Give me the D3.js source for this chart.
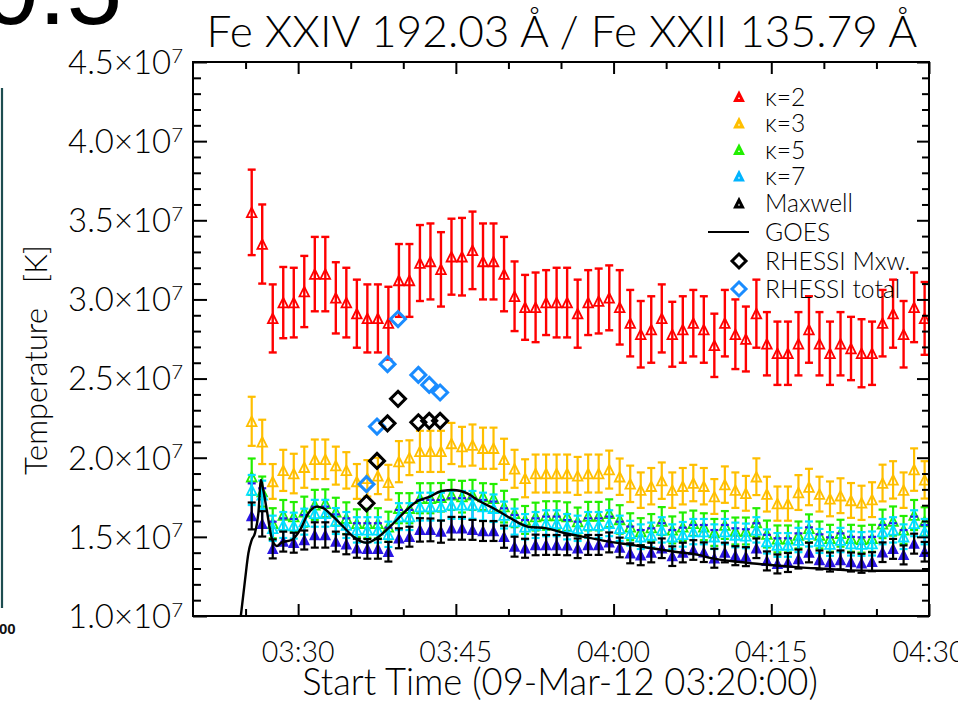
<!DOCTYPE html>
<html>
<head>
<meta charset="utf-8">
<script src="https://cdn.jsdelivr.net/npm/d3@7"></script>
<style>
  html, body { margin: 0; padding: 0; background: #fff; }
  svg { display: block; }
  .lbl { font-family: "Lato", "Liberation Sans", sans-serif; font-weight: 300; fill: #000; white-space: pre; }
</style>
</head>
<body>
<svg id="chart" width="958" height="703"></svg>
<script>
// ---- observation times (UT, 09-Mar-2012) ----
const obsTimes = [
  "03:25:35","03:26:35","03:27:35","03:28:35","03:29:35","03:30:35","03:31:35","03:32:35","03:33:35","03:34:35",
  "03:35:35","03:36:35","03:37:35","03:38:35","03:39:35","03:40:35","03:41:35","03:42:35","03:43:35","03:44:35",
  "03:45:35","03:46:35","03:47:35","03:48:35","03:49:35","03:50:35","03:51:35","03:52:35","03:53:35","03:54:35",
  "03:55:35","03:56:35","03:57:35","03:58:35","03:59:35","04:00:35","04:01:35","04:02:35","04:03:35","04:04:35",
  "04:05:35","04:06:35","04:07:35","04:08:35","04:09:35","04:10:35","04:11:35","04:12:35","04:13:35","04:14:35",
  "04:15:35","04:16:35","04:17:35","04:18:35","04:19:35","04:20:35","04:21:35","04:22:35","04:23:35","04:24:35",
  "04:25:35","04:26:35","04:27:35","04:28:35","04:29:35"];

// ---- temperatures in MK with 1-sigma errors ----
const kappa2 = [35.5,33.5,28.8,29.8,29.8,30.5,31.6,31.6,30.1,29.8,
  29.1,28.8,28.8,28.5,31.2,31.2,32.3,32.4,31.9,32.7,
  32.7,33.1,32.4,32.4,31.6,30.2,29.5,29.5,29.8,29.8,
  29.8,29.1,29.8,29.9,30.1,29.5,28.5,27.8,28.1,28.8,
  27.8,28.1,28.5,28.1,27.1,28.5,27.8,27.5,29.1,27.2,
  26.6,26.6,27.2,28.1,27.2,26.6,27.2,26.9,26.6,26.6,
  28.5,29.1,27.8,29.5,28.8];
const kappa2Err = [2.7,2.5,2.15,2.25,2.2,2.25,2.35,2.35,2.25,2.2,
  2.15,2.15,2.15,2.3,2.3,2.3,2.4,2.4,2.35,2.4,
  2.45,2.45,2.4,2.4,2.35,2.2,2.05,2.2,2.05,2.2,
  2.2,2.15,2.05,2.05,2.05,2.35,2.1,2.1,2.1,2.15,
  2.05,2.1,2.1,2.1,2.0,2.1,2.2,2.05,2.15,2.0,
  2.0,2.0,2.0,2.1,2.0,2.0,2.0,2.0,2.15,2.0,
  2.1,2.15,2.1,2.2,2.3];

const kappa3 = [22.3,21.0,18.5,19.2,19.0,19.4,19.9,19.9,19.5,19.2,
  18.5,18.7,18.85,18.45,19.75,20.0,20.4,20.4,20.4,20.9,
  20.7,20.8,20.6,20.6,19.9,19.3,18.7,19.0,19.0,19.0,
  19.0,18.85,19.0,19.0,19.25,18.8,18.35,17.95,18.2,18.55,
  17.95,18.2,18.4,18.2,17.55,18.3,17.95,17.75,18.8,17.7,
  17.1,17.1,17.8,18.15,17.7,17.4,17.6,17.3,17.15,17.35,
  18.4,18.6,17.95,19.25,18.6];
const kappa3Err = [1.55,1.4,1.1,1.3,1.25,1.3,1.25,1.25,1.2,1.15,
  1.1,1.15,1.15,1.1,1.3,1.1,1.3,1.3,1.3,1.3,
  1.25,1.3,1.3,1.3,1.3,1.2,1.2,1.2,1.2,1.2,
  1.2,1.2,1.2,1.2,1.2,1.15,1.15,1.12,1.15,1.15,
  1.12,1.15,1.15,1.15,1.1,1.15,1.12,1.1,1.16,1.1,
  1.08,1.08,1.1,1.15,1.1,1.1,1.1,1.1,1.08,1.1,
  1.16,1.18,1.12,1.34,1.18];

const kappa5 = [18.8,17.86,15.86,16.38,16.28,16.59,17.02,17.12,16.59,16.18,
  15.86,15.86,15.86,15.64,16.81,16.81,17.44,17.44,17.5,17.65,
  17.54,17.65,17.54,17.44,16.91,16.49,16.07,16.28,16.35,16.35,
  16.28,15.97,16.31,16.31,16.49,16.1,15.64,15.33,15.59,16.0,
  15.44,15.64,15.86,15.64,15.28,15.75,15.37,15.37,15.91,15.18,
  14.87,14.87,15.12,15.54,15.12,14.91,15.23,14.91,14.85,14.91,
  15.82,16.0,15.44,16.38,15.97];
const kappa5Err = [1.15,0.95,0.95,0.95,0.92,0.95,0.95,0.88,0.88,1.0,
  0.88,0.92,0.95,0.95,0.95,0.95,0.95,0.95,0.9,0.95,
  1.0,0.95,0.85,0.9,1.0,0.88,0.88,0.88,0.9,0.9,
  0.9,0.88,0.9,0.9,0.88,0.9,0.85,0.85,0.85,0.88,
  0.85,0.9,0.8,0.85,0.85,0.88,0.85,0.85,0.9,0.85,
  0.85,0.85,0.85,0.88,0.85,0.85,0.85,0.85,0.85,0.85,
  0.9,0.92,0.88,0.95,0.9];

const kappa7 = [17.96,17.65,15.54,15.75,15.71,15.96,16.49,16.49,16.0,15.75,
  15.44,15.44,15.44,15.16,16.28,16.28,16.91,16.91,16.91,17.02,
  17.02,17.02,16.91,16.81,16.38,15.96,15.64,15.75,15.86,15.86,
  15.64,15.54,15.75,15.75,15.86,15.54,15.23,15.01,15.12,15.44,
  15.01,15.16,15.33,15.33,15.01,15.33,15.12,15.06,15.44,14.71,
  14.49,14.49,14.8,15.18,14.74,14.55,14.8,14.58,14.55,14.58,
  15.33,15.44,15.01,15.86,15.33];
const kappa7Err = [0.95,0.9,0.8,0.82,0.82,0.82,0.85,0.85,0.82,0.82,
  0.8,0.8,0.8,0.8,0.85,0.85,0.88,0.88,0.88,0.88,
  0.88,0.88,0.88,0.87,0.85,0.82,0.8,0.82,0.82,0.82,
  0.8,0.8,0.82,0.82,0.82,0.8,0.78,0.78,0.78,0.8,
  0.78,0.78,0.8,0.8,0.78,0.8,0.78,0.78,0.8,0.76,
  0.75,0.75,0.77,0.79,0.76,0.75,0.77,0.76,0.75,0.76,
  0.8,0.8,0.78,0.82,0.8];

const maxwell = [16.32,15.82,14.24,14.70,14.63,14.8,15.12,15.12,14.70,14.53,
  14.28,14.24,14.24,14.06,14.91,15.01,15.44,15.44,15.33,15.54,
  15.54,15.44,15.37,15.37,15.01,14.38,14.28,14.49,14.49,14.49,
  14.47,14.28,14.49,14.49,14.65,14.33,13.96,13.84,14.01,14.28,
  13.78,14.01,14.17,14.03,13.65,14.01,13.81,13.75,14.28,13.48,
  13.29,13.38,13.6,14.01,13.54,13.41,13.54,13.41,13.33,13.43,
  14.03,14.24,13.86,14.57,14.06];
const maxwellErr = [0.85,0.8,0.6,0.63,0.63,0.6,0.8,0.8,0.63,0.63,
  0.6,0.62,0.62,0.62,0.63,0.63,0.74,0.72,0.7,0.72,
  0.72,0.63,0.63,0.63,0.7,0.63,0.6,0.65,0.63,0.63,
  0.63,0.62,0.63,0.63,0.63,0.62,0.63,0.63,0.62,0.62,
  0.62,0.62,0.62,0.62,0.6,0.62,0.6,0.6,0.62,0.6,
  0.6,0.6,0.6,0.62,0.6,0.6,0.6,0.6,0.6,0.6,
  0.62,0.63,0.6,0.63,0.62];
// upper limit of the Maxwellian fit, drawn in blue
const maxwellUpper = [18.38,18.07,15.96,16.17,16.13,16.38,16.91,16.91,16.42,16.17,
  15.86,15.86,15.86,15.58,16.7,16.7,17.33,17.33,17.33,17.44,
  17.44,17.44,17.33,17.23,16.8,16.38,16.06,16.17,16.28,16.28,
  16.06,15.96,16.17,16.17,16.28,15.96,15.65,15.43,15.54,15.86,
  15.43,15.58,15.75,15.75,15.43,15.75,15.54,15.48,15.86,15.13,
  14.91,14.91,15.22,15.6,15.16,14.97,15.22,15.0,14.97,15.0,
  15.75,15.86,15.43,16.28,15.75];

// ---- GOES temperature (MK) ----
const goesTimes = ["03:24:17","03:24:57","03:25:16","03:25:35","03:25:54","03:26:13","03:26:28","03:26:41",
  "03:27:01","03:27:29","03:27:58","03:28:26","03:29:23","03:30:11","03:30:58","03:31:46","03:32:23",
  "03:33:20","03:34:18","03:35:15","03:36:31","03:37:28","03:38:44","03:40:00","03:41:17","03:42:32",
  "03:43:39","03:44:46","03:46:02","03:47:18","03:48:34","03:50:09","03:51:53","03:53:38","03:55:23",
  "03:57:36","03:59:30","04:01:44","04:03:38","04:05:50","04:08:04","04:09:10","04:12:02","04:14:53",
  "04:17:44","04:20:25","04:22:29","04:25:09","04:30:00"];
const goesTemp = [8.5,12.28,13.96,14.8,15.25,16.49,18.6,17.96,
  16.7,14.93,14.42,14.65,14.8,15.44,16.49,16.91,16.81,
  16.28,15.64,15.01,14.63,14.91,15.64,16.49,17.23,17.54,
  17.9,17.96,17.76,17.23,16.81,16.19,15.64,15.54,15.23,
  14.95,14.7,14.49,14.28,14.06,13.86,13.67,13.41,13.22,
  13.07,12.97,12.88,12.86,12.86];

// ---- RHESSI fits (MK) ----
const rhessiTimes = ["03:36:30","03:37:30","03:38:30","03:39:30","03:41:26","03:42:28","03:43:30"];
const rhessiMxw   = [17.12,19.8,22.17,23.72,22.24,22.33,22.33];
const rhessiTotal = [18.33,21.97,25.91,28.76,25.23,24.6,24.12];

// ---- axis labels ----
const yTickValues = [10,15,20,25,30,35,40,45];
const yTickMantissa = ["1.0","1.5","2.0","2.5","3.0","3.5","4.0","4.5"];
const yTickExponent = "7";
const xTickLabels = ["03:30","03:45","04:00","04:15","04:30"];
const legendLabels = ["\u03ba=2","\u03ba=3","\u03ba=5","\u03ba=7","Maxwell","GOES","RHESSI Mxw.","RHESSI total"];

// ---- colours ----
const C = {
  k2: "#ff0000", k3: "#ffbf00", k5: "#22ee00", k7: "#00e0ff", k7Text: "#00b4ff",
  mxwBlue: "#2a16e4", rhTotal: "#1a8cff"
};

const svg = d3.select("#chart");
const day = "2012-03-09 ";
const parse = d3.utcParse("%Y-%m-%d %H:%M:%S");
const T = s => parse(day + s);

const L = 193, R = 929, TOP = 62, BOT = 616;
const x = d3.scaleUtc().domain([T("03:20:00"), T("04:30:00")]).range([L, R]);
const y = d3.scaleLinear().domain([10, 45]).range([BOT, TOP]);

// fit font size so text spans a given width
function fit(sel, width) {
  const fs = parseFloat(sel.attr("font-size"));
  const w = sel.node().getComputedTextLength();
  sel.attr("font-size", fs * width / w);
  return fs * width / w;
}

// ---- neighbouring-panel fragments at the left edge ----
svg.append("text").attr("x", 122).attr("y", 24).attr("text-anchor", "end")
  .attr("font-family", "Liberation Sans, Arial, sans-serif").attr("font-size", 100).attr("fill", "#000")
  .text("0.5");
svg.append("line").attr("x1", 2).attr("x2", 2).attr("y1", 88).attr("y2", 608)
  .attr("stroke", "#1d4d50").attr("stroke-width", 2.2);
svg.append("text").attr("x", -1).attr("y", 634)
  .attr("font-family", "Liberation Sans, Arial, sans-serif").attr("font-weight", "bold")
  .attr("font-size", 15).attr("fill", "#111").text("00");

// ---- clip ----
svg.append("clipPath").attr("id", "plotClip").append("rect")
  .attr("x", L).attr("y", TOP).attr("width", R - L).attr("height", BOT - TOP);
const plot = svg.append("g").attr("clip-path", "url(#plotClip)");

const tri = (cx, cy, s) => `M${cx - s},${cy + s}L${cx},${cy - s}L${cx + s},${cy + s}Z`;
const CAP = 4;
const TRI = 4.8;

function series(vals, errs, color, opts = {}) {
  const data = obsTimes.map((t, i) => ({ px: x(T(t)), v: vals[i], e: errs[i] }));
  const g = plot.append("g");
  const bw = opts.barWidth || 2;
  g.selectAll(".bar").data(data).join("line")
    .attr("x1", d => d.px).attr("x2", d => d.px)
    .attr("y1", d => y(d.v + d.e)).attr("y2", d => y(d.v - d.e))
    .attr("stroke", opts.barColor || color).attr("stroke-width", bw);
  ["top", "bot"].forEach(k => {
    g.selectAll(".cap" + k).data(data).join("line")
      .attr("x1", d => d.px - CAP).attr("x2", d => d.px + CAP)
      .attr("y1", d => y(k === "top" ? d.v + d.e : d.v - d.e))
      .attr("y2", d => y(k === "top" ? d.v + d.e : d.v - d.e))
      .attr("stroke", opts.barColor || color).attr("stroke-width", bw);
  });
  if (!opts.noMarker) {
    g.selectAll(".mk").data(data).join("path")
      .attr("d", d => tri(d.px, y(d.v), TRI))
      .attr("fill", opts.fill || "none").attr("stroke", color).attr("stroke-width", 1.8);
  }
  return g;
}

series(kappa2, kappa2Err, C.k2, { barWidth: 2.4 });
series(kappa3, kappa3Err, C.k3, { barWidth: 2.2 });
series(kappa5, kappa5Err, C.k5, { barWidth: 2.2 });

// blue upper bars of the Maxwellian fit
{
  const data = obsTimes.map((t, i) => ({ px: x(T(t)), v: maxwell[i], u: maxwellUpper[i] }));
  const g = plot.append("g");
  g.selectAll("line.u").data(data).join("line")
    .attr("x1", d => d.px).attr("x2", d => d.px)
    .attr("y1", d => y(d.u)).attr("y2", d => y(d.v))
    .attr("stroke", C.mxwBlue).attr("stroke-width", 2);
  g.selectAll("line.uc").data(data).join("line")
    .attr("x1", d => d.px - CAP).attr("x2", d => d.px + CAP)
    .attr("y1", d => y(d.u)).attr("y2", d => y(d.u))
    .attr("stroke", C.mxwBlue).attr("stroke-width", 2.2);
}

series(kappa7, kappa7Err, C.k7, { barWidth: 2.2 });

// Maxwellian: blue triangles, black error bars
{
  const data = obsTimes.map((t, i) => ({ px: x(T(t)), v: maxwell[i] }));
  plot.append("g").selectAll("path").data(data).join("path")
    .attr("d", d => tri(d.px, y(d.v), 4.3))
    .attr("fill", C.mxwBlue).attr("stroke", C.mxwBlue).attr("stroke-width", 1.8);
}
series(maxwell, maxwellErr, "#000", { barWidth: 2.2, noMarker: true });

// GOES
plot.append("path")
  .datum(goesTimes.map((t, i) => [x(T(t)), y(goesTemp[i])]))
  .attr("d", d3.line().curve(d3.curveMonotoneX))
  .attr("fill", "none").attr("stroke", "#000").attr("stroke-width", 2.4);

// RHESSI diamonds
const diamond = (cx, cy, s) => `M${cx},${cy - s}L${cx + s},${cy}L${cx},${cy + s}L${cx - s},${cy}Z`;
plot.append("g").selectAll("path").data(rhessiTimes.map((t, i) => [x(T(t)), y(rhessiTotal[i])]))
  .join("path").attr("d", d => diamond(d[0], d[1], 7.5))
  .attr("fill", "none").attr("stroke", C.rhTotal).attr("stroke-width", 3);
plot.append("g").selectAll("path").data(rhessiTimes.map((t, i) => [x(T(t)), y(rhessiMxw[i])]))
  .join("path").attr("d", d => diamond(d[0], d[1], 7.5))
  .attr("fill", "none").attr("stroke", "#000").attr("stroke-width", 3);

// ---- axes ----
const xMajor = xTickLabels.map(s => T(s + ":00"));
const xMinor = d3.utcMinute.every(5).range(T("03:20:00"), T("04:30:01"))
  .filter(d => d > x.domain()[0] && d < x.domain()[1] && d.getUTCMinutes() % 15 !== 0);
const yMinor = d3.range(11, 45, 1).filter(v => v % 5 !== 0);

function axisGroup(axis, tx, ty) {
  const g = svg.append("g").attr("transform", `translate(${tx},${ty})`).call(axis);
  g.select(".domain").remove();
  g.selectAll(".tick line").attr("stroke", "#000").attr("stroke-width", 2);
  g.selectAll(".tick text").remove();
  return g;
}
axisGroup(d3.axisBottom(x).tickValues(xMajor).tickSize(-12).tickSizeOuter(0), 0, BOT);
axisGroup(d3.axisBottom(x).tickValues(xMinor).tickSize(-7).tickSizeOuter(0), 0, BOT);
axisGroup(d3.axisTop(x).tickValues(xMajor).tickSize(-12).tickSizeOuter(0), 0, TOP);
axisGroup(d3.axisTop(x).tickValues(xMinor).tickSize(-7).tickSizeOuter(0), 0, TOP);
axisGroup(d3.axisLeft(y).tickValues(yTickValues).tickSize(-14).tickSizeOuter(0), L, 0);
axisGroup(d3.axisLeft(y).tickValues(yMinor).tickSize(-8).tickSizeOuter(0), L, 0);
axisGroup(d3.axisRight(y).tickValues(yTickValues).tickSize(-12).tickSizeOuter(0), R, 0);
axisGroup(d3.axisRight(y).tickValues(yMinor).tickSize(-7).tickSizeOuter(0), R, 0);

svg.append("rect").attr("x", L).attr("y", TOP).attr("width", R - L).attr("height", BOT - TOP)
  .attr("fill", "none").attr("stroke", "#000").attr("stroke-width", 2);

// x tick labels
const xl = svg.append("g").selectAll("text").data(xMajor).join("text")
  .attr("class", "lbl").attr("x", d => x(d)).attr("y", 662).attr("text-anchor", "middle")
  .attr("font-size", 30).text((d, i) => xTickLabels[i]);
const xfs = fit(d3.select(xl.nodes()[0]), 73);
xl.attr("font-size", xfs);

// y tick labels
const yl = svg.append("g").selectAll("text").data(yTickValues).join("text")
  .attr("class", "lbl").attr("x", 183).attr("text-anchor", "end").attr("font-size", 28);
yl.append("tspan").text((d, i) => yTickMantissa[i] + "\u00d710");
yl.append("tspan").attr("font-size", "0.62em").attr("dy", "-0.55em").text(yTickExponent);
const yfs = fit(d3.select(yl.nodes()[7]), 115);
yl.attr("font-size", yfs).attr("y", d => y(d) + yfs * 0.36);

// titles
const title = svg.append("text").attr("class", "lbl").attr("x", 562).attr("y", 47)
  .attr("text-anchor", "middle").attr("font-size", 34)
  .text("Fe XXIV 192.03 \u00c5 / Fe XXII 135.79 \u00c5");
fit(title, 711);
const xt = svg.append("text").attr("class", "lbl").attr("x", 560).attr("y", 695)
  .attr("text-anchor", "middle").attr("font-size", 30)
  .text("Start Time (09-Mar-12 03:20:00)");
fit(xt, 516);
const yt = svg.append("text").attr("class", "lbl")
  .attr("transform", "translate(47,360) rotate(-90)")
  .attr("text-anchor", "middle").attr("font-size", 30)
  .text("Temperature   [K]");
fit(yt, 230);

// ---- legend ----
const legRows = [97, 123.5, 150, 176.5, 203.5, 232, 261, 289];
const legColors = [C.k2, C.k3, C.k5, C.k7Text, "#000", "#000", "#000", C.rhTotal];
const leg = svg.append("g");
const lt = leg.selectAll("text").data(legendLabels).join("text")
  .attr("class", "lbl").attr("x", 765).attr("font-size", 20)
  .attr("fill", (d, i) => legColors[i]).text(d => d);
const lfs = fit(d3.select(lt.nodes()[4]), 88);
lt.attr("font-size", lfs).attr("y", (d, i) => legRows[i] + lfs * 0.36);
[0, 1, 2, 3, 4].forEach(i => {
  leg.append("path").attr("d", tri(739, legRows[i], 3.5))
    .attr("fill", "none").attr("stroke", legColors[i]).attr("stroke-width", 3);
});
leg.append("line").attr("x1", 708).attr("x2", 749).attr("y1", legRows[5]).attr("y2", legRows[5])
  .attr("stroke", "#000").attr("stroke-width", 2);
leg.append("path").attr("d", diamond(739, legRows[6], 7)).attr("fill", "none")
  .attr("stroke", "#000").attr("stroke-width", 3);
leg.append("path").attr("d", diamond(739, legRows[7], 7)).attr("fill", "none")
  .attr("stroke", C.rhTotal).attr("stroke-width", 3);
</script>
</body>
</html>
